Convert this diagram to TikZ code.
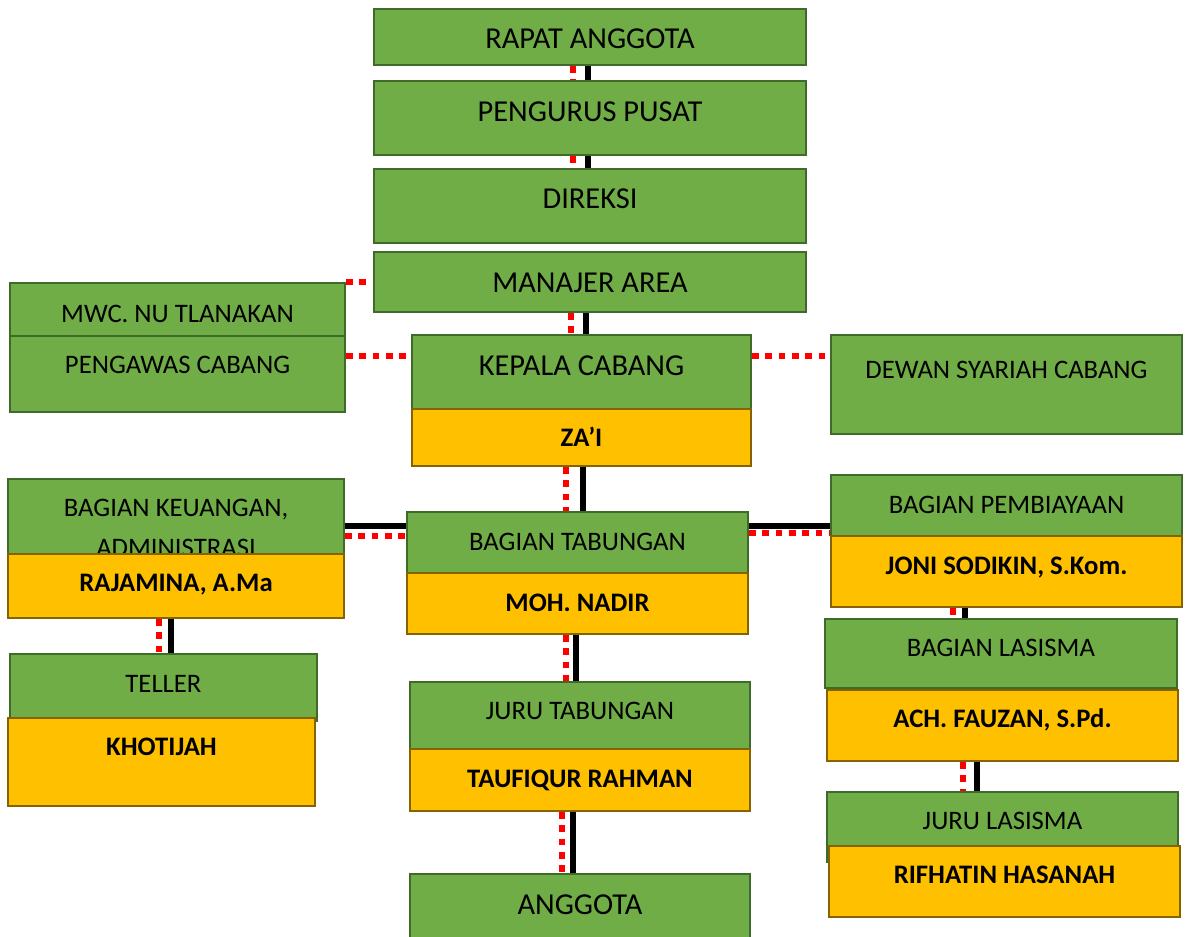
\documentclass[tikz,border=0pt]{standalone}
\usepackage{fontspec}
\setmainfont{Carlito}
\usetikzlibrary{fit,backgrounds}
\definecolor{gfill}{HTML}{70AD47}
\definecolor{gline}{HTML}{3E6B2A}
\definecolor{yfill}{HTML}{FFC000}
\definecolor{yline}{HTML}{856300}
\definecolor{rdot}{HTML}{FF0000}
\tikzset{
 gbox/.style={draw=gline, fill=gfill, line width=2.2pt, inner sep=0pt},
 ybox/.style={draw=yline, fill=yfill, line width=2.2pt, inner sep=0pt},
 bigtxt/.style={anchor=base, inner sep=0pt, font=\fontsize{30.4}{36}\selectfont},
 smtxt/.style={anchor=base, inner sep=0pt, font=\fontsize{26.7}{32}\selectfont},
 nmtxt/.style={anchor=base, inner sep=0pt, font=\fontsize{26.7}{32}\selectfont\bfseries},
 solidlink/.style={draw=black, line width=6pt},
 dotlink/.style={draw=rdot, line width=6pt, dash pattern=on 6.5pt off 6.8pt},
}
\newcommand{\obox}[6]{\coordinate (#1-a) at (#3,#4); \coordinate (#1-b) at (#5,#6); \node[#2, fit=(#1-a)(#1-b)] (#1) {};}
\begin{document}
\begin{tikzpicture}[x=1pt,y=-1pt]
\useasboundingbox (0,0) rectangle (1189,937);
\clip (0,0) rectangle (1189,937);
% boxes
\obox{rapat}{gbox}{374}{9}{806}{65}
\node[bigtxt] (rapat-t) at (590,48) {RAPAT ANGGOTA};
\obox{pusat}{gbox}{374}{81}{806}{155}
\node[bigtxt] (pusat-t) at (590,121) {PENGURUS PUSAT};
\obox{direksi}{gbox}{374}{169}{806}{243}
\node[bigtxt] (direksi-t) at (590,208) {DIREKSI};
\obox{manajer}{gbox}{374}{252}{806}{312}
\node[bigtxt] (manajer-t) at (590,292) {MANAJER AREA};
\obox{mwc}{gbox}{10}{283}{345}{336}
\node[smtxt] (mwc-t) at (177.5,322) {MWC. NU TLANAKAN};
\obox{pengawas}{gbox}{10}{336}{345}{412}
\node[smtxt] (pengawas-t) at (177.5,373) {PENGAWAS CABANG};
\obox{kepala}{gbox}{412}{335}{751}{409}
\node[bigtxt] (kepala-t) at (581.5,375) {KEPALA CABANG};
\obox{zai}{ybox}{412}{409}{751}{466}
\node[nmtxt] (zai-t) at (581.5,446) {ZA’I};
\obox{dewan}{gbox}{831}{335}{1182}{434}
\node[smtxt] (dewan-t) at (1006.5,378) {DEWAN SYARIAH CABANG};
\obox{keuangan}{gbox}{8}{479}{344}{554}
\node[smtxt] (keuangan-t1) at (176,516) {BAGIAN KEUANGAN,};
\node[smtxt] (keuangan-t2) at (176,556) {ADMINISTRASI};
\obox{rajamina}{ybox}{8}{554}{344}{618}
\node[nmtxt] (rajamina-t) at (176,591) {RAJAMINA, A.Ma};
\obox{teller}{gbox}{10}{654}{317}{721}
\node[smtxt] (teller-t) at (163.5,692) {TELLER};
\obox{khotijah}{ybox}{8}{718}{315}{806}
\node[nmtxt] (khotijah-t) at (161.5,755) {KHOTIJAH};
\obox{tabungan}{gbox}{407}{512}{748}{573}
\node[smtxt] (tabungan-t) at (577.5,550) {BAGIAN TABUNGAN};
\obox{nadir}{ybox}{407}{573}{748}{634}
\node[nmtxt] (nadir-t) at (577.5,611) {MOH. NADIR};
\obox{jurutab}{gbox}{410}{682}{750}{749}
\node[smtxt] (jurutab-t) at (580,719) {JURU TABUNGAN};
\obox{taufiq}{ybox}{410}{749}{750}{811}
\node[nmtxt] (taufiq-t) at (580,787) {TAUFIQUR RAHMAN};
\obox{anggota}{gbox}{410}{874}{750}{950}
\node[bigtxt] (anggota-t) at (580,914) {ANGGOTA};
\obox{pemb}{gbox}{831}{475}{1182}{536}
\node[smtxt] (pemb-t) at (1006.5,513) {BAGIAN PEMBIAYAAN};
\obox{joni}{ybox}{831}{536}{1182}{607}
\node[nmtxt] (joni-t) at (1006.5,574) {JONI SODIKIN, S.Kom.};
\obox{lasisma}{gbox}{825}{619}{1177}{688}
\node[smtxt] (lasisma-t) at (1001,656) {BAGIAN LASISMA};
\obox{fauzan}{ybox}{827}{690}{1178}{761}
\node[nmtxt] (fauzan-t) at (1002.5,727) {ACH. FAUZAN, S.Pd.};
\obox{jurulas}{gbox}{827}{792}{1178}{862}
\node[smtxt] (jurulas-t) at (1002.5,829) {JURU LASISMA};
\obox{rifhatin}{ybox}{829}{846}{1180}{917}
\node[nmtxt] (rifhatin-t) at (1004.5,883) {RIFHATIN HASANAH};
% connectors
\begin{scope}[on background layer]
\fill[white] (0,0) rectangle (1189,937);
\draw[solidlink] ([xshift=-2pt]rapat.south) -- ([xshift=-2pt]pusat.north);
\draw[dotlink] ([xshift=-17pt]rapat.south) -- ([xshift=-17pt]pusat.north);
\draw[solidlink] ([xshift=-2pt]pusat.south) -- ([xshift=-2pt]direksi.north);
\draw[dotlink] ([xshift=-17pt]pusat.south) -- ([xshift=-17pt]direksi.north);
\draw[solidlink] ([xshift=-4pt]manajer.south) -- ([xshift=4.5pt]kepala.north);
\draw[dotlink] ([xshift=-19pt]manajer.south) -- ([xshift=-10.5pt]kepala.north);
\draw[dotlink] (mwc.east |- manajer.west) -- (manajer.west);
\coordinate (kl) at ([yshift=16pt]kepala.west);
\coordinate (kr) at ([yshift=16pt]kepala.east);
\draw[dotlink] (pengawas.east |- kl) -- (kl);
\draw[dotlink] (kr) -- (dewan.west |- kr);
\draw[solidlink] ([xshift=1.5pt]zai.south) -- ([xshift=5.5pt]tabungan.north);
\draw[dotlink] ([xshift=-15.5pt]zai.south) -- ([xshift=-11.5pt]tabungan.north);
\coordinate (tbs) at ([yshift=16.5pt]tabungan.west);
\coordinate (tbd) at ([yshift=6.5pt]tabungan.west);
\coordinate (trs) at ([yshift=16.5pt]tabungan.east);
\coordinate (trd) at ([yshift=9.5pt]tabungan.east);
\draw[solidlink] (keuangan.east |- tbs) -- (tbs);
\draw[dotlink] (keuangan.east |- tbd) -- (tbd);
\draw[solidlink] (trs) -- (pemb.west |- trs);
\draw[dotlink] (trd) -- (pemb.west |- trd);
\draw[solidlink] ([xshift=-1.5pt]nadir.south) -- ([xshift=-4pt]jurutab.north);
\draw[dotlink] ([xshift=-11.5pt]nadir.south) -- ([xshift=-14pt]jurutab.north);
\draw[solidlink] ([xshift=-7pt]taufiq.south) -- ([xshift=-7pt]anggota.north);
\draw[dotlink] ([xshift=-18pt]taufiq.south) -- ([xshift=-18pt]anggota.north);
\draw[solidlink] ([xshift=-5pt]rajamina.south) -- ([xshift=7.5pt]teller.north);
\draw[dotlink] ([xshift=-17pt]rajamina.south) -- ([xshift=-4.5pt]teller.north);
\draw[solidlink] ([xshift=-41.5pt]joni.south) -- ([xshift=-36pt]lasisma.north);
\draw[dotlink] ([xshift=-53.5pt]joni.south) -- ([xshift=-48pt]lasisma.north);
\draw[solidlink] ([xshift=-25.5pt]fauzan.south) -- ([xshift=-25.5pt]jurulas.north);
\draw[dotlink] ([xshift=-39.5pt]fauzan.south) -- ([xshift=-39.5pt]jurulas.north);
\end{scope}
\end{tikzpicture}
\end{document}
